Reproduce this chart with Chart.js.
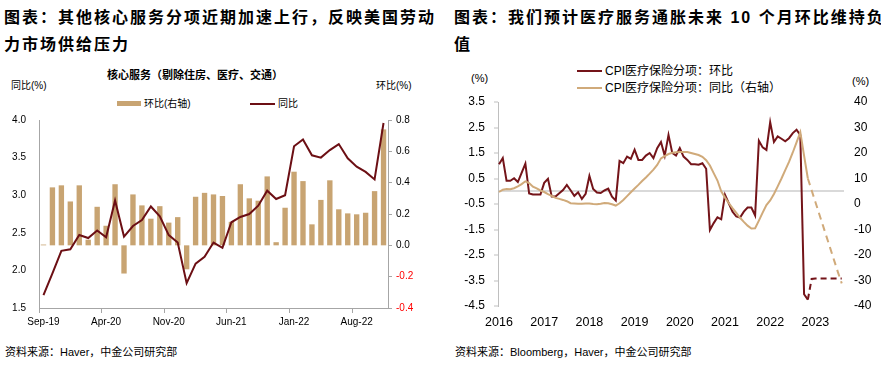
<!DOCTYPE html>
<html><head><meta charset="utf-8">
<script src="https://cdn.jsdelivr.net/npm/chart.js@4/dist/chart.umd.min.js"></script>
<style>
body{margin:0;width:881px;height:366px;background:#fff;overflow:hidden;position:relative;font-family:"Liberation Sans","Noto Sans CJK SC",sans-serif;color:#000}
.t{position:absolute;white-space:nowrap}
.title{font-family:"Liberation Sans","Noto Sans CJK SC";font-weight:bold;font-size:16px;letter-spacing:2px;line-height:27px}
.sm{font-size:10px;line-height:14px}
.md{font-size:11px;line-height:14px}
.lg{font-size:12px;line-height:14px}
canvas{position:absolute}
</style></head><body>
<div class="t title" style="left:4px;top:4px">图表：其他核心服务分项近期加速上行，反映美国劳动<br>力市场供给压力</div>
<div class="t title" style="left:454px;top:4px">图表：我们预计医疗服务通胀未来 10 个月环比维持负<br>值</div>

<div class="t md" style="left:107px;top:68px;font-weight:bold">核心服务（剔除住房、医疗、交通）</div>
<div class="t sm" style="left:11px;top:79px">同比(%)</div>
<div class="t sm" style="left:376px;top:79px">环比(%)</div>
<div class="t" style="left:117px;top:101px;width:24px;height:5px;background:#C8A472"></div>
<div class="t sm" style="left:144px;top:97px">环比(右轴)</div>
<div class="t" style="left:250px;top:103px;width:25px;height:2px;background:#6C0F14"></div>
<div class="t sm" style="left:278px;top:97px">同比</div>

<div class="t md" style="left:471px;top:71px">(%)</div>
<div class="t md" style="left:852px;top:74px">(%)</div>
<div class="t" style="left:577px;top:70px;width:25px;height:2px;background:#741419"></div>
<div class="t lg" style="left:605px;top:64px">CPI医疗保险分项：环比</div>
<div class="t" style="left:577px;top:87px;width:25px;height:2px;background:#D0AA7A"></div>
<div class="t lg" style="left:605px;top:81px">CPI医疗保险分项：同比（右轴）</div>

<div class="t md" style="left:5px;top:345px">资料来源：Haver，中金公司研究部</div>
<div class="t md" style="left:455px;top:345px">资料来源：Bloomberg，Haver，中金公司研究部</div>

<canvas id="c1" width="440" height="280" style="left:0;top:60px"></canvas>
<canvas id="c2" width="431" height="280" style="left:450px;top:60px"></canvas>

<script>
// ---------- Left chart data ----------
const leftMonths = ['Sep-19','Oct-19','Nov-19','Dec-19','Jan-20','Feb-20','Mar-20','Apr-20','May-20','Jun-20','Jul-20','Aug-20','Sep-20','Oct-20','Nov-20','Dec-20','Jan-21','Feb-21','Mar-21','Apr-21','May-21','Jun-21','Jul-21','Aug-21','Sep-21','Oct-21','Nov-21','Dec-21','Jan-22','Feb-22','Mar-22','Apr-22','May-22','Jun-22','Jul-22','Aug-22','Sep-22','Oct-22','Nov-22'];
const leftYoY = [1.67,1.96,2.26,2.28,2.47,2.43,2.53,2.44,2.93,2.45,2.59,2.67,2.85,2.72,2.47,2.37,1.83,2.09,2.18,2.37,2.30,2.64,2.71,2.75,2.86,3.06,2.95,3.00,3.65,3.74,3.53,3.50,3.60,3.68,3.49,3.38,3.31,3.21,3.96];
const leftMoM = [0.005,0.37,0.383,0.28,0.383,0.036,0.246,0.125,0.39,-0.18,0.325,0.255,0.17,0.25,0.145,0.18,-0.153,0.31,0.335,0.325,0.315,0.15,0.39,0.30,0.285,0.44,0.02,0.24,0.47,0.41,0.134,0.29,0.415,0.23,0.204,0.198,0.208,0.346,0.74];
const leftLabelEvery = 7;

// ---------- Right chart data (monthly from Jan 2016) ----------
const rightYears = ['2016','2017','2018','2019','2020','2021','2022','2023'];
const rightMoM = [1.06,1.30,0.41,0.41,0.51,0.36,0.72,1.08,-0.09,-0.13,-0.13,-0.13,
  0.33,0.49,-0.21,-0.21,-0.08,0.05,0.25,0.04,-0.18,-0.04,-0.30,-0.10,
  0.60,0.09,-0.05,-0.07,0.03,0.10,-0.21,-0.36,1.19,1.10,1.36,1.27,
  1.63,1.23,1.23,1.40,1.50,1.30,1.69,1.93,1.39,2.21,1.50,1.40,
  1.69,1.36,1.23,1.06,1.06,1.04,1.10,0.88,-1.52,-1.25,-1.02,-1.10,
  -0.14,-0.47,-0.80,-0.99,-1.03,-0.80,-0.64,-0.64,-0.95,1.98,1.72,1.62,
  2.71,1.93,2.15,2.06,1.96,2.08,2.28,2.41,2.20,-4.04,-4.25,-3.44,
  -3.42,-3.42,-3.42,-3.42,-3.42,-3.42,-3.42,-3.42];
const rightYoY = [4.7,5.6,5.9,5.8,6.2,6.9,7.8,8.9,8.2,6.8,6.1,5.3,
  4.7,3.9,3.2,2.4,2.0,1.6,1.1,0.3,0.2,0.1,0.1,0.2,
  0.2,0.0,-0.1,0.1,0.4,0.3,-0.1,-0.6,0.3,1.6,3.1,4.6,
  6.1,7.5,9.0,10.4,11.9,13.5,15.3,17.9,18.8,19.6,20.1,20.3,
  20.4,20.4,20.4,20.0,19.6,19.2,18.5,17.2,15.1,12.1,9.2,5.0,
  2.5,0.4,-1.6,-3.5,-5.4,-7.0,-8.5,-9.6,-9.5,-6.5,-3.4,-0.4,
  1.4,3.9,6.9,10.0,13.3,16.5,20.2,24.2,28.2,19.0,10.0,5.4,
  0.8,-3.8,-8.4,-13.0,-17.6,-22.2,-26.8,-31.1];
const forecastStart = 82;   // index from which the lines are dashed (forecast)
const rightLeftTicks = [-4.5,-3.5,-2.5,-1.5,-0.5,0,0.5,1.5,2.5,3.5];

Chart.defaults.font.family = 'Liberation Sans';
Chart.defaults.color = '#000';
const clear = 'rgba(0,0,0,0)';

new Chart(document.getElementById('c1'), {
  data: {
    labels: leftMonths,
    datasets: [
      {type:'line', label:'同比', data:leftYoY, yAxisID:'y', borderColor:'#6C0F14', borderWidth:2, pointRadius:0, tension:0, order:0},
      {type:'bar', label:'环比(右轴)', data:leftMoM, yAxisID:'y1', backgroundColor:'#C8A472', barPercentage:0.6, categoryPercentage:1.0, order:1}
    ]
  },
  options: {
    responsive:false, animation:false, devicePixelRatio:1,
    layout:{padding:{top:60,left:0,right:0,bottom:0}},
    plugins:{legend:{display:false}, tooltip:{enabled:false}},
    scales:{
      x:{type:'category', offset:true,
         grid:{display:true, drawOnChartArea:false, offset:true, tickLength:5,
               tickColor: c => (c.index % leftLabelEvery === 0) ? '#A6A6A6' : clear},
         border:{display:true, color:'#A6A6A6'},
         ticks:{autoSkip:false, maxRotation:0, minRotation:0, padding:3, font:{size:10},
                callback:(v,i) => i % leftLabelEvery === 0 ? leftMonths[i] : ''},
         afterFit: s => { s.height = 32; }},
      y:{position:'left', min:1.5, max:4.0,
         ticks:{stepSize:0.5, padding:13, font:{size:10}, callback:v => v.toFixed(1)},
         grid:{display:false, drawTicks:false},
         border:{display:true, color:'#A6A6A6'},
         afterFit: s => { s.width = 39; }},
      y1:{position:'right', min:-0.4, max:0.8,
         ticks:{stepSize:0.2, padding:4, font:{size:10}, callback:v => v.toFixed(1),
                color: c => (c.tick && c.tick.value < -1e-9) ? '#FF0000' : '#000'},
         grid:{display:true, drawOnChartArea:false, tickLength:4, color:'#A6A6A6'},
         border:{display:true, color:'#A6A6A6'},
         afterFit: s => { s.width = 52; }}
    }
  }
});

const dash = pat => ({borderDash: c => c.p0DataIndex >= forecastStart ? pat : undefined});

new Chart(document.getElementById('c2'), {
  type:'line',
  data: {
    datasets: [
      {label:'CPI医疗保险分项：环比', data:rightMoM.map((v,i)=>({x:i,y:v})), yAxisID:'y',
       borderColor:'#741419', borderWidth:2, pointRadius:0, tension:0, order:1, segment:dash([6,4])},
      {label:'CPI医疗保险分项：同比（右轴）', data:rightYoY.map((v,i)=>({x:i,y:v})), yAxisID:'y1',
       borderColor:'#D0AA7A', borderWidth:2, pointRadius:0, tension:0, order:0, segment:dash([7,5])}
    ]
  },
  options: {
    responsive:false, animation:false, devicePixelRatio:1,
    layout:{padding:{top:42,left:0,right:0,bottom:0}},
    plugins:{legend:{display:false}, tooltip:{enabled:false}},
    scales:{
      x:{type:'linear', min:-0.27, max:91.6,
         afterBuildTicks: s => { s.ticks = rightYears.map((y,i)=>({value:i*12})); },
         ticks:{padding:9, font:{size:12.5}, maxRotation:0, autoSkip:false,
                callback: v => rightYears[Math.round(v/12)]},
         grid:{display:false, drawTicks:false},
         border:{display:false},
         afterFit: s => { s.height = 34; }},
      y:{position:'left', min:-4.5, max:3.5,
         afterBuildTicks: s => { s.ticks = rightLeftTicks.map(v=>({value:v})); },
         ticks:{padding:9, font:{size:12}, callback: v => Math.abs(v) < 1e-9 ? '' : v.toFixed(1)},
         grid:{display:true, drawOnChartArea:true, drawTicks:true, tickLength:4, lineWidth:2,
               color: c => (c.tick && Math.abs(c.tick.value) < 1e-9) ? '#D9D9D9' : clear,
               tickColor: c => (c.tick && Math.abs(c.tick.value) < 1e-9) ? clear : '#BFBFBF',
               tickWidth:1},
         border:{display:true, color:'#BFBFBF'},
         afterFit: s => { s.width = 48; }},
      y1:{position:'right', min:-40, max:40,
         ticks:{stepSize:10, padding:10, font:{size:12}},
         grid:{display:false, drawTicks:false},
         border:{display:false},
         afterFit: s => { s.width = 37; }}
    }
  }
});
</script>
</body></html>
